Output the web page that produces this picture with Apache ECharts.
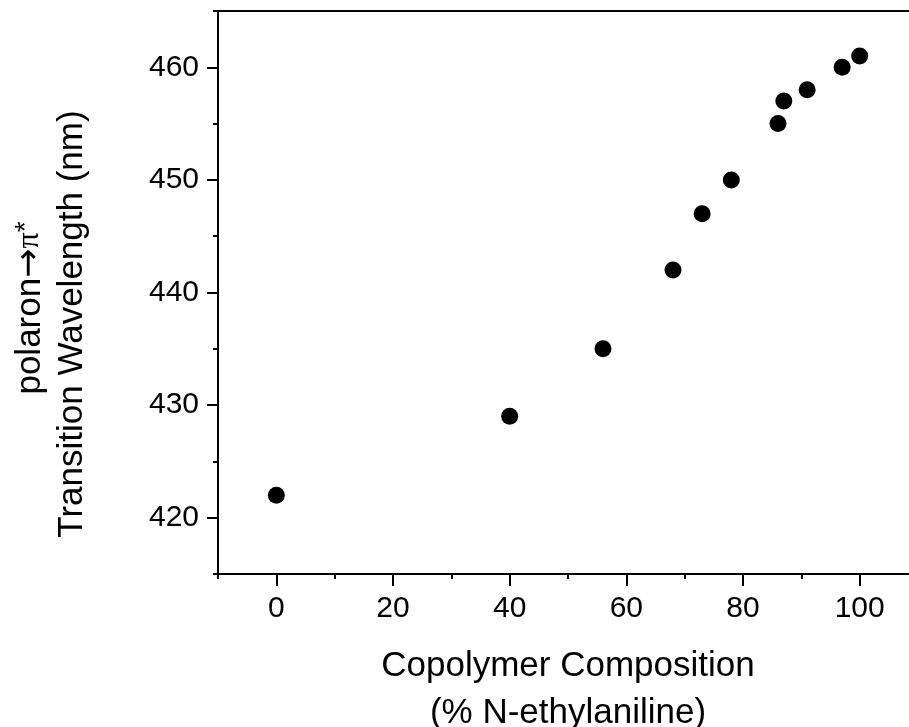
<!DOCTYPE html>
<html>
<head>
<meta charset="utf-8">
<script src="https://cdn.jsdelivr.net/npm/echarts@6/dist/echarts.min.js"></script>
<style>html,body{margin:0;padding:0;background:#fff;}#c{width:909px;height:727px;}</style>
</head>
<body>
<div id="c"></div>
<script>
const composition = [0, 40, 56, 68, 73, 78, 86, 87, 91, 97, 100];
const wavelength = [422, 429, 435, 442, 447, 450, 455, 457, 458, 460, 461];
const xMajorTicks = [0, 20, 40, 60, 80, 100];
const xMinorTicks = [-10, 10, 30, 50, 70, 90, 110];
const yMajorTicks = [420, 430, 440, 450, 460];
const yMinorTicks = [415, 425, 435, 445, 455, 465];
const xTitle = 'Copolymer Composition\n(% N-ethylaniline)';
const yTitle1 = ['polaron', '\u2192', '\u03c0', '*'];
const yTitle2 = 'Transition Wavelength (nm)';

const FONT = "'Liberation Sans', Arial, sans-serif";
const line = {show: true, onZero: false, lineStyle: {color: '#000', width: 2}};
const noLine = {show: false, onZero: false};
const chart = echarts.init(document.getElementById('c'));
chart.setOption({
  animation: false,
  backgroundColor: '#fff',
  grid: {left: 218, top: 11, width: 700, height: 563, containLabel: false, outerBoundsMode: 'none'},
  xAxis: [
    {
      type: 'value', position: 'bottom', min: -10, max: 110, interval: 10,
      axisLine: line,
      axisTick: {show: true, customValues: xMajorTicks, length: 12, lineStyle: {color: '#000', width: 2}},
      axisLabel: {show: true, customValues: xMajorTicks, color: '#000', fontSize: 30, fontFamily: FONT, margin: 20},
      splitLine: {show: false},
      name: xTitle, nameLocation: 'middle', nameGap: 69,
      nameTextStyle: {color: '#000', fontSize: 35, fontFamily: FONT, lineHeight: 47}
    },
    {
      type: 'value', position: 'bottom', min: -10, max: 110, interval: 10,
      axisLine: noLine,
      axisTick: {show: true, customValues: xMinorTicks, length: 5, lineStyle: {color: '#000', width: 2}},
      axisLabel: {show: false}, splitLine: {show: false}
    },
    {
      type: 'value', position: 'top', min: -10, max: 110,
      axisLine: line, axisTick: {show: false}, axisLabel: {show: false}, splitLine: {show: false}
    }
  ],
  yAxis: [
    {
      type: 'value', position: 'left', min: 415, max: 465, interval: 5,
      axisLine: line,
      axisTick: {show: true, customValues: yMajorTicks, length: 11, lineStyle: {color: '#000', width: 2}},
      axisLabel: {show: true, customValues: yMajorTicks, color: '#000', fontSize: 30, fontFamily: FONT, margin: 19},
      splitLine: {show: false}
    },
    {
      type: 'value', position: 'left', min: 415, max: 465, interval: 5,
      axisLine: noLine,
      axisTick: {show: true, customValues: yMinorTicks, length: 5, lineStyle: {color: '#000', width: 2}},
      axisLabel: {show: false}, splitLine: {show: false}
    }
  ],
  graphic: [
    {type: 'text', x: 30, y: 308, rotation: Math.PI / 2,
     style: {
       text: yTitle1[0] + '{a|' + yTitle1[1] + '}{p|' + yTitle1[2] + '}{s|' + yTitle1[3] + '}',
       fill: '#000', fontSize: 35, fontFamily: FONT, align: 'center', verticalAlign: 'middle',
       rich: {
         a: {fontSize: 35, fontFamily: "'DejaVu Sans', sans-serif", fill: '#000'},
         p: {fontSize: 32, fontFamily: "'Liberation Serif', 'DejaVu Serif', serif", fill: '#000'},
         s: {fontSize: 28, fontFamily: FONT, fill: '#000', verticalAlign: 'top'}
       }
     }},
    {type: 'text', x: 72, y: 324, rotation: Math.PI / 2,
     style: {text: yTitle2, fill: '#000', fontSize: 35, fontFamily: FONT, align: 'center', verticalAlign: 'middle'}}
  ],
  series: [{
    type: 'scatter', xAxisIndex: 0, yAxisIndex: 0,
    data: composition.map((c, i) => [c, wavelength[i]]),
    symbol: 'circle', symbolSize: 17,
    itemStyle: {color: '#000', opacity: 1}
  }]
});
</script>
</body>
</html>
